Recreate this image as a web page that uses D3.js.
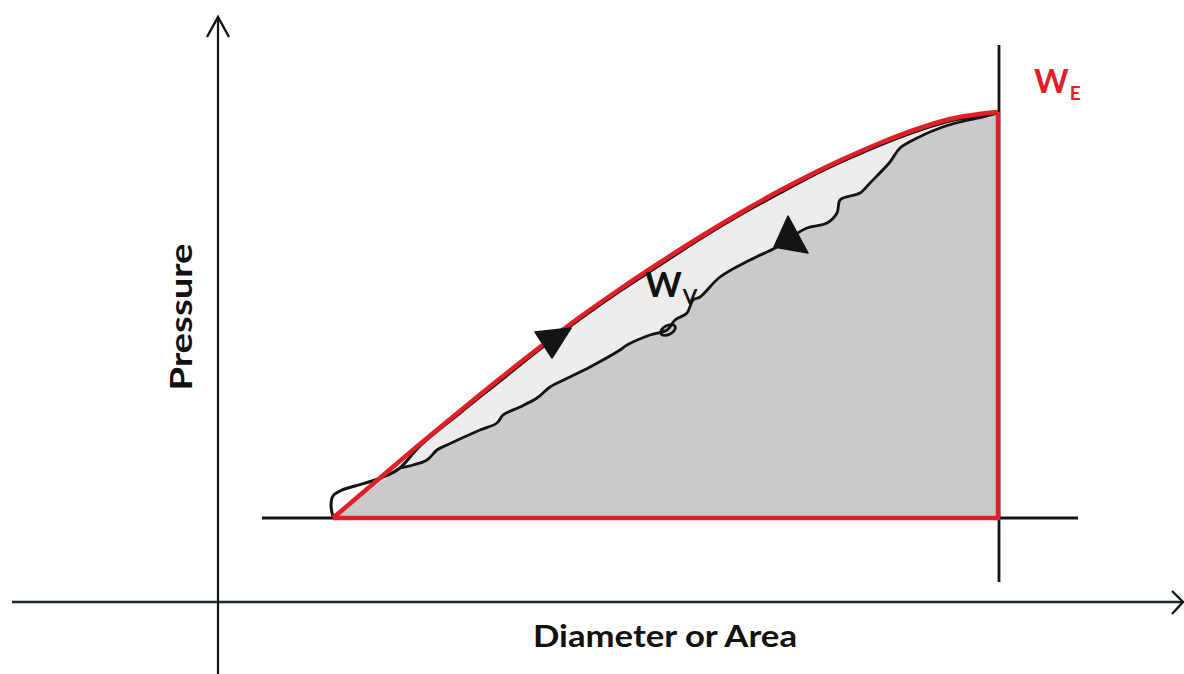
<!DOCTYPE html>
<html><head><meta charset="utf-8">
<script src="https://cdn.jsdelivr.net/npm/d3@7"></script>
<style>html,body{margin:0;padding:0;background:#fff;}svg{display:block;}</style>
</head><body>
<svg id="c" width="1184" height="674"></svg>
<script>
// Abstract units: x = diameter/area, y = pressure (schematic, no ticks)
const envelopeTop = [[115,84],[162,124],[202,158],[242,191],[282,223.5],[322,255],[362,285],[402,313],[442,339.5],[482,365],[522,389],[562,411.5],[602,432],[632,446],[662,459],[699,473],[732,483],[765,488.5],[780,490]];
const baseP = 84;      // baseline pressure
const maxD = 780;      // max diameter
const loading = [[115,85],[113,97],[115,106],[122,111],[137,116],[154,121],[170,127],[182,134],[202,156],[242,189],[282,221],[322,253],[362,283],[402,311],[442,337],[482,363],[522,387],[562,409],[602,430],[632,444],[662,457],[699,471],[732,481],[765,487],[780,489]];
const unloading = [[780,489],[765,485],[742,480],[722,474],[699,464],[682,454],[672,440],[652,419],[642,409],[632,406],[622,402],[619,389],[609,379],[589,374],[572,364],[559,355],[532,342],[502,325],[482,305],[475,302],[469,289],[457,282],[449,272],[432,267],[409,257],[402,252],[372,235],[352,225],[332,215],[319,204],[302,195],[285,187],[279,179],[262,172],[229,157],[219,152],[209,142],[195,137],[182,134]];
const arrowDown = [[317,270],[353,274],[334,244]];
const arrowUp = [[570,386],[556,355],[590,349]];
const loopPoint = [450,272];
const axisLabels = {x:"Diameter or Area", y:"Pressure"};

const svg = d3.select("#c");
const x = d3.scaleLinear().domain([0,965]).range([218,1183]);
const y = d3.scaleLinear().domain([0,585]).range([602,17]);
const line = d3.line().x(d=>x(d[0])).y(d=>y(d[1]));
const smooth = d3.line().x(d=>x(d[0])).y(d=>y(d[1])).curve(d3.curveCatmullRom.alpha(0.5));

const RED = "#e41e26", DARK = "#c9cbcb", LIGHT = "#ececec", INK = "#141414";

// light fill: full envelope
svg.append("path").attr("d", smooth(envelopeTop) + "L" + x(maxD) + "," + y(baseP) + "L" + x(envelopeTop[0][0]) + "," + y(baseP) + "Z")
  .attr("fill", LIGHT);
// dark fill: under the unloading curve
svg.append("path").attr("d", smooth(unloading) + "L" + x(envelopeTop[0][0]) + "," + y(baseP) + "L" + x(maxD) + "," + y(baseP) + "Z")
  .attr("fill", DARK);

// axes
svg.append("line").attr("x1", x(0)).attr("x2", x(0)).attr("y1", 674).attr("y2", y(585)+1).attr("stroke", INK).attr("stroke-width", 2.2);
svg.append("path").attr("d", `M${x(0)-11},${y(585)+20}L${x(0)},${y(585)}L${x(0)+11},${y(585)+20}`).attr("fill","none").attr("stroke",INK).attr("stroke-width",2.4);
svg.append("line").attr("x1", 12).attr("x2", x(965)-1).attr("y1", y(0)).attr("y2", y(0)).attr("stroke", "#1e2a2a").attr("stroke-width", 2.6);
svg.append("path").attr("d", `M${x(965)-11},${y(0)-11}L${x(965)},${y(0)}L${x(965)-11},${y(0)+12}`).attr("fill","none").attr("stroke",INK).attr("stroke-width",2.4);

// reference lines
svg.append("line").attr("x1", x(44)).attr("x2", x(860)).attr("y1", y(baseP)).attr("y2", y(baseP)).attr("stroke", INK).attr("stroke-width", 2.8);
svg.append("line").attr("x1", x(maxD)+1).attr("x2", x(maxD)+1).attr("y1", y(557)).attr("y2", y(20)).attr("stroke", INK).attr("stroke-width", 2.8);

// black curves
svg.append("path").attr("d", smooth(loading)).attr("fill","none").attr("stroke",INK).attr("stroke-width",3);
svg.append("path").attr("d", smooth(unloading)).attr("fill","none").attr("stroke",INK).attr("stroke-width",2.8);
svg.append("ellipse").attr("cx", x(loopPoint[0])).attr("cy", y(loopPoint[1]))
  .attr("rx", 8).attr("ry", 4.5).attr("transform", `rotate(-28 ${x(loopPoint[0])} ${y(loopPoint[1])})`)
  .attr("fill","none").attr("stroke",INK).attr("stroke-width",2.8);

// red envelope
svg.append("path").attr("d", smooth(envelopeTop)).attr("fill","none").attr("stroke",RED).attr("stroke-width",4.5);
svg.append("path").attr("d", line([[maxD,490],[maxD,baseP],[envelopeTop[0][0],baseP]])).attr("fill","none").attr("stroke",RED).attr("stroke-width",4.5).attr("stroke-linejoin","miter");

// direction arrows
[arrowDown, arrowUp].forEach(t=>{
  svg.append("path").attr("d", line(t)+"Z").attr("fill",INK).attr("stroke",INK).attr("stroke-width",1.5).attr("stroke-linejoin","round");
});

// labels
svg.append("text").attr("x", 665).attr("y", 647).attr("text-anchor","middle")
  .attr("font-family","Lato, 'Open Sans', sans-serif").attr("font-weight",700).attr("font-size",30)
  .attr("textLength",264).attr("lengthAdjust","spacingAndGlyphs").attr("fill","#111").text(axisLabels.x);
svg.append("text").attr("transform","translate(192,317) rotate(-90)").attr("text-anchor","middle")
  .attr("font-family","Lato, 'Open Sans', sans-serif").attr("font-weight",700).attr("font-size",30)
  .attr("textLength",147).attr("lengthAdjust","spacingAndGlyphs").attr("fill","#111").text(axisLabels.y);

const wv = svg.append("text").attr("x", 645).attr("y", 297)
  .attr("font-family","Lato, 'Open Sans', sans-serif").attr("font-weight",700).attr("font-size",35).attr("fill","#111");
wv.append("tspan").text("W");
wv.append("tspan").attr("font-size",21).attr("dy",7).attr("dx",1).text("V");

const we = svg.append("text").attr("x", 1034).attr("y", 93)
  .attr("font-family","Lato, 'Open Sans', sans-serif").attr("font-weight",700).attr("font-size",33).attr("fill",RED);
we.append("tspan").text("W");
we.append("tspan").attr("font-size",19).attr("dy",7).attr("dx",1).text("E");
</script>
</body></html>
